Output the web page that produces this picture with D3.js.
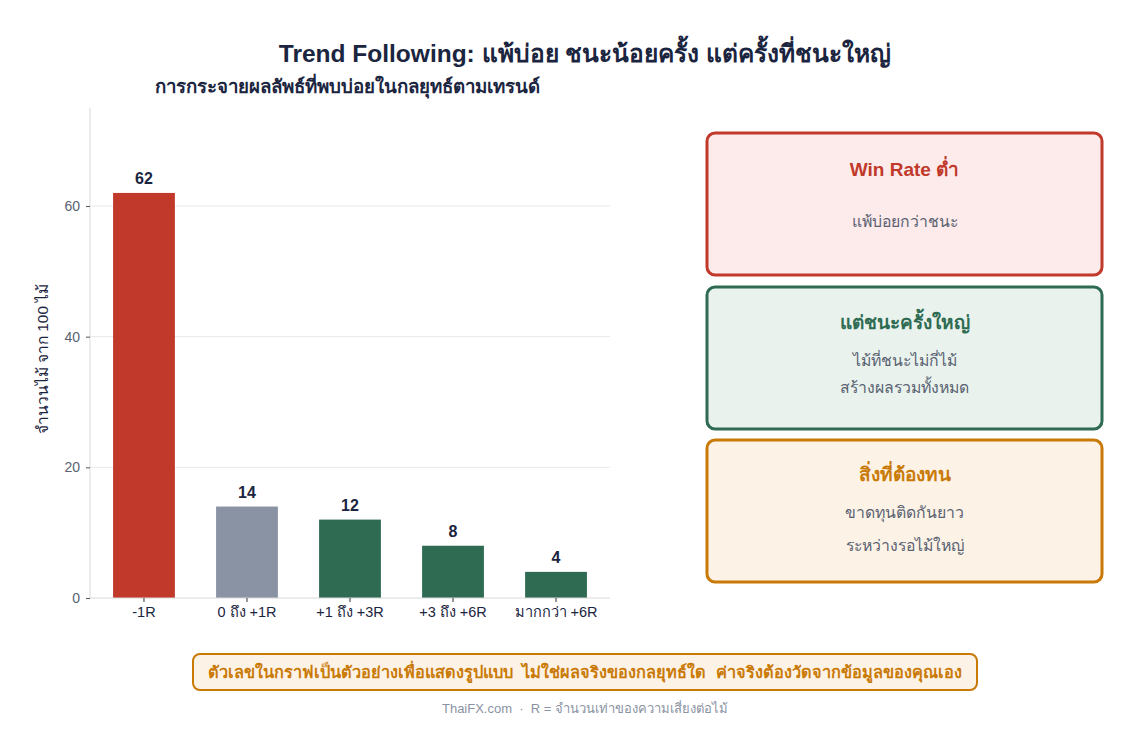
<!DOCTYPE html>
<html><head><meta charset="utf-8">
<script src="https://cdn.jsdelivr.net/npm/d3@7"></script>
<style>
html,body{margin:0;padding:0;background:#fff;}
svg{display:block;font-family:"Liberation Sans",Arial,sans-serif;}
svg text{white-space:pre;}
</style></head>
<body><svg id="chart" width="1147" height="751"></svg>
<script>
const categories = ["-1R", "0 ถึง +1R", "+1 ถึง +3R", "+3 ถึง +6R", "มากกว่า +6R"];
const counts = [62, 14, 12, 8, 4];
const barColors = ["#c0392b", "#8a93a3", "#2e6b52", "#2e6b52", "#2e6b52"];
const yTicks = [0, 20, 40, 60];
const cards = [
  {title: "Win Rate ต่ำ", lines: ["แพ้บ่อยกว่าชนะ"], stroke: "#c0392b", fill: "#fdeaea"},
  {title: "แต่ชนะครั้งใหญ่", lines: ["ไม้ที่ชนะไม่กี่ไม้", "สร้างผลรวมทั้งหมด"], stroke: "#2e6b52", fill: "#e9f2ed"},
  {title: "สิ่งที่ต้องทน", lines: ["ขาดทุนติดกันยาว", "ระหว่างรอไม้ใหญ่"], stroke: "#c97a06", fill: "#fdf2e6"}
];
const titleText = "Trend Following: แพ้บ่อย ชนะน้อยครั้ง แต่ครั้งที่ชนะใหญ่";
const subtitleText = "การกระจายผลลัพธ์ที่พบบ่อยในกลยุทธ์ตามเทรนด์";
const yLabel = "จำนวนไม้ จาก 100 ไม้";
const noteText = "ตัวเลขในกราฟเป็นตัวอย่างเพื่อแสดงรูปแบบ  ไม่ใช่ผลจริงของกลยุทธ์ใด  ค่าจริงต้องวัดจากข้อมูลของคุณเอง";
const sourceText = "ThaiFX.com  ·  R = จำนวนเท่าของความเสี่ยงต่อไม้";

const svg = d3.select("#chart");
const m = {left: 90, right: 610, top: 108, bottom: 598};

const x = d3.scaleBand().domain(categories).range([m.left, m.right]).paddingInner(0.4).paddingOuter(0.224);
const y = d3.scaleLinear().domain([0, 75]).range([m.bottom, m.top]);

// title
svg.append("text").attr("x", 585).attr("y", 62).attr("text-anchor", "middle")
  .attr("font-size", 24.5).attr("font-weight", "bold").attr("fill", "#1b2540").text(titleText);
svg.append("text").attr("x", 155).attr("y", 93).attr("text-anchor", "start")
  .attr("font-size", 18.7).attr("font-weight", "bold").attr("fill", "#1b2540").text(subtitleText);

// gridlines
svg.append("g").selectAll("line").data(yTicks.filter(d => d > 0)).join("line")
  .attr("x1", m.left).attr("x2", m.right).attr("y1", d => y(d)).attr("y2", d => y(d))
  .attr("stroke", "#e8e8e8").attr("stroke-width", 1);

// y axis
const yAxis = svg.append("g").attr("transform", `translate(${m.left},0)`)
  .call(d3.axisLeft(y).tickValues(yTicks).tickSize(4).tickPadding(6));
yAxis.select(".domain").attr("stroke", "#d8d8d8").attr("d", `M-0,${m.top}V${m.bottom}`);
yAxis.selectAll(".tick line").attr("stroke", "#555");
yAxis.selectAll(".tick text").attr("font-size", 14).attr("fill", "#5a6272").attr("font-family", "Liberation Sans, Arial, sans-serif");

// bars
svg.append("g").selectAll("rect").data(counts).join("rect")
  .attr("x", (d, i) => x(categories[i])).attr("width", x.bandwidth())
  .attr("y", d => y(d)).attr("height", d => y(0) - y(d))
  .attr("fill", (d, i) => barColors[i]);

// value labels
svg.append("g").selectAll("text").data(counts).join("text")
  .attr("x", (d, i) => x(categories[i]) + x.bandwidth() / 2).attr("y", d => y(d) - 9)
  .attr("text-anchor", "middle").attr("font-size", 16).attr("font-weight", "bold")
  .attr("fill", "#1b2540").text(d => d);

// x axis
const xAxis = svg.append("g").attr("transform", `translate(0,${m.bottom})`)
  .call(d3.axisBottom(x).tickSize(4).tickPadding(5));
xAxis.select(".domain").attr("stroke", "#d8d8d8").attr("d", `M${m.left},0H${m.right}`);
xAxis.selectAll(".tick line").attr("stroke", "#333");
xAxis.selectAll(".tick text").attr("font-size", 14.5).attr("fill", "#1b2540").attr("font-family", "Liberation Sans, Arial, sans-serif");

// y label
svg.append("text").attr("transform", `translate(48,${(m.top + m.bottom) / 2 + 6}) rotate(-90)`)
  .attr("text-anchor", "middle").attr("font-size", 15.5).attr("fill", "#1b2540").text(yLabel);

// cards
const cardX = 707, cardW = 395, cardH = 142, cardYs = [133, 287, 440];
const titleOffsets = [37, 36, 35];
const lineOffsets = [[89], [74, 101], [73, 106]];
cards.forEach((c, i) => {
  const g = svg.append("g");
  g.append("rect").attr("x", cardX).attr("y", cardYs[i]).attr("width", cardW).attr("height", cardH)
    .attr("rx", 8).attr("fill", c.fill).attr("stroke", c.stroke).attr("stroke-width", 3);
  g.append("text").attr("x", cardX + cardW / 2).attr("y", cardYs[i] + titleOffsets[i] + 6)
    .attr("text-anchor", "middle").attr("font-size", 19).attr("font-weight", "bold")
    .attr("fill", c.stroke).text(c.title);
  c.lines.forEach((ln, j) => {
    g.append("text").attr("x", cardX + cardW / 2).attr("y", cardYs[i] + lineOffsets[i][j] + 5)
      .attr("text-anchor", "middle").attr("font-size", 15.8).attr("fill", "#5a6272").text(ln);
  });
});

// note box
svg.append("rect").attr("x", 193).attr("y", 654).attr("width", 784).attr("height", 36)
  .attr("rx", 7).attr("fill", "#fdf2e6").attr("stroke", "#c97a06").attr("stroke-width", 2);
svg.append("text").attr("x", 585).attr("y", 678).attr("text-anchor", "middle")
  .attr("font-size", 16.3).attr("font-weight", "bold").attr("fill", "#c97a06").text(noteText);
svg.append("text").attr("x", 585).attr("y", 713).attr("text-anchor", "middle")
  .attr("font-size", 13).attr("fill", "#8a93a3").text(sourceText);
</script></body></html>
